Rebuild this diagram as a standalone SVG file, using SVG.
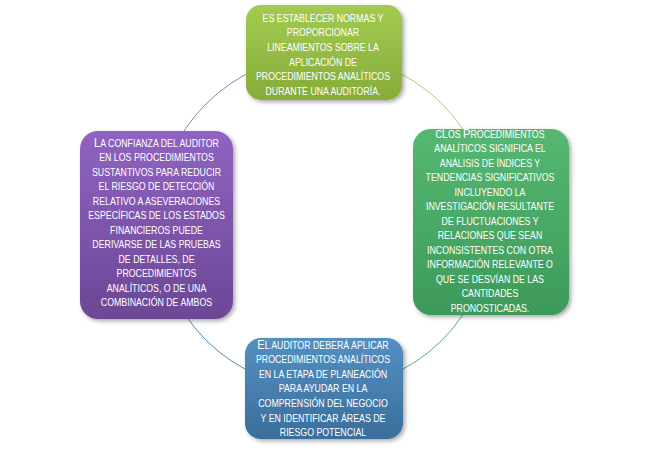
<svg xmlns="http://www.w3.org/2000/svg" width="646" height="455" viewBox="0 0 646 455">
<defs>
<linearGradient id="gTop" x1="0" y1="0" x2="0" y2="1"><stop offset="0" stop-color="#a3cb50"/><stop offset="1" stop-color="#86ac39"/></linearGradient>
<linearGradient id="gRight" x1="0" y1="0" x2="0" y2="1"><stop offset="0" stop-color="#55b872"/><stop offset="1" stop-color="#3d9a5a"/></linearGradient>
<linearGradient id="gBottom" x1="0" y1="0" x2="0" y2="1"><stop offset="0" stop-color="#5390c2"/><stop offset="1" stop-color="#3a6e9b"/></linearGradient>
<linearGradient id="gLeft" x1="0" y1="0" x2="0" y2="1"><stop offset="0" stop-color="#8f63c2"/><stop offset="1" stop-color="#6c4795"/></linearGradient>
<filter id="sh" x="-10%" y="-10%" width="125%" height="125%"><feDropShadow dx="2" dy="2" stdDeviation="2" flood-color="#000" flood-opacity="0.35"/></filter>
</defs>
<style>
.box{filter:url(#sh)}
.t{font-family:"Liberation Sans",Arial,sans-serif;font-size:10px;fill:#ffffff;text-anchor:middle}
.b{font-size:12.5px}
.arc{fill:none;stroke-width:1}
</style>
<rect width="646" height="455" fill="#ffffff"/>
<g id="connectors">
<path class="arc" d="M324,55 A167,167 0 0 1 491,222" stroke="#b1cd7c"/>
<path class="arc" d="M491,222 A167,167 0 0 1 324,389" stroke="#4fb06d"/>
<path class="arc" d="M324,389 A167,167 0 0 1 157,222" stroke="#4b8bb9"/>
<path class="arc" d="M157,222 A167,167 0 0 1 324,55" stroke="#8a86bb"/>
</g>
<g id="node-top">
<rect class="box" x="246" y="5" width="156" height="95" rx="15" fill="url(#gTop)"/>
<g transform="translate(323,0) scale(0.88,1)">
<text class="t" x="0" y="21.6">ES ESTABLECER NORMAS Y</text>
<text class="t" x="0" y="36.3">PROPORCIONAR</text>
<text class="t" x="0" y="51">LINEAMIENTOS SOBRE LA</text>
<text class="t" x="0" y="65.7">APLICACIÓN DE</text>
<text class="t" x="0" y="80.4">PROCEDIMIENTOS ANALÍTICOS</text>
<text class="t" x="0" y="95.1">DURANTE UNA AUDITORÍA.</text>
</g>
</g>
<g id="node-right">
<rect class="box" x="413" y="129" width="156" height="186" rx="18" fill="url(#gRight)"/>
<g transform="translate(490,0) scale(0.88,1)">
<text class="t" x="0" y="137.6">C<tspan class="b">L</tspan>OS <tspan class="b">P</tspan>ROCEDIMIENTOS</text>
<text class="t" x="0" y="152.1">ANALÍTICOS SIGNIFICA EL</text>
<text class="t" x="0" y="166.6">ANÁLISIS DE ÍNDICES Y</text>
<text class="t" x="0" y="181.1">TENDENCIAS SIGNIFICATIVOS</text>
<text class="t" x="0" y="195.6">INCLUYENDO LA</text>
<text class="t" x="0" y="210.1">INVESTIGACIÓN RESULTANTE</text>
<text class="t" x="0" y="224.6">DE FLUCTUACIONES Y</text>
<text class="t" x="0" y="239.1">RELACIONES QUE SEAN</text>
<text class="t" x="0" y="253.6">INCONSISTENTES CON OTRA</text>
<text class="t" x="0" y="268.1">INFORMACIÓN RELEVANTE O</text>
<text class="t" x="0" y="282.6">QUE SE DESVÍAN DE LAS</text>
<text class="t" x="0" y="297.1">CANTIDADES</text>
<text class="t" x="0" y="311.6">PRONOSTICADAS.</text>
</g>
</g>
<g id="node-bottom">
<rect class="box" x="245" y="338" width="158" height="101" rx="16" fill="url(#gBottom)"/>
<g transform="translate(323,0) scale(0.88,1)">
<text class="t" x="0" y="348.6"><tspan class="b">E</tspan>L AUDITOR DEBERÁ APLICAR</text>
<text class="t" x="0" y="363.2">PROCEDIMIENTOS ANALÍTICOS</text>
<text class="t" x="0" y="377.8">EN LA ETAPA DE PLANEACIÓN</text>
<text class="t" x="0" y="392.4">PARA AYUDAR EN  LA</text>
<text class="t" x="0" y="407">COMPRENSIÓN DEL NEGOCIO</text>
<text class="t" x="0" y="421.6">Y EN IDENTIFICAR ÁREAS DE</text>
<text class="t" x="0" y="436.2">RIESGO POTENCIAL</text>
</g>
</g>
<g id="node-left">
<rect class="box" x="80" y="131" width="153" height="188" rx="18" fill="url(#gLeft)"/>
<g transform="translate(156.5,0) scale(0.88,1)">
<text class="t" x="0" y="146.8"><tspan class="b">L</tspan>A CONFIANZA DEL AUDITOR</text>
<text class="t" x="0" y="161.3">EN LOS PROCEDIMIENTOS</text>
<text class="t" x="0" y="175.8">SUSTANTIVOS PARA REDUCIR</text>
<text class="t" x="0" y="190.3">EL RIESGO DE DETECCIÓN</text>
<text class="t" x="0" y="204.8">RELATIVO A ASEVERACIONES</text>
<text class="t" x="0" y="219.3">ESPECÍFICAS DE LOS ESTADOS</text>
<text class="t" x="0" y="233.8">FINANCIEROS PUEDE</text>
<text class="t" x="0" y="248.3">DERIVARSE DE LAS PRUEBAS</text>
<text class="t" x="0" y="262.8">DE DETALLES, DE</text>
<text class="t" x="0" y="277.3">PROCEDIMIENTOS</text>
<text class="t" x="0" y="291.8">ANALÍTICOS, O DE UNA</text>
<text class="t" x="0" y="306.3">COMBINACIÓN DE AMBOS</text>
</g>
</g>
</svg>
